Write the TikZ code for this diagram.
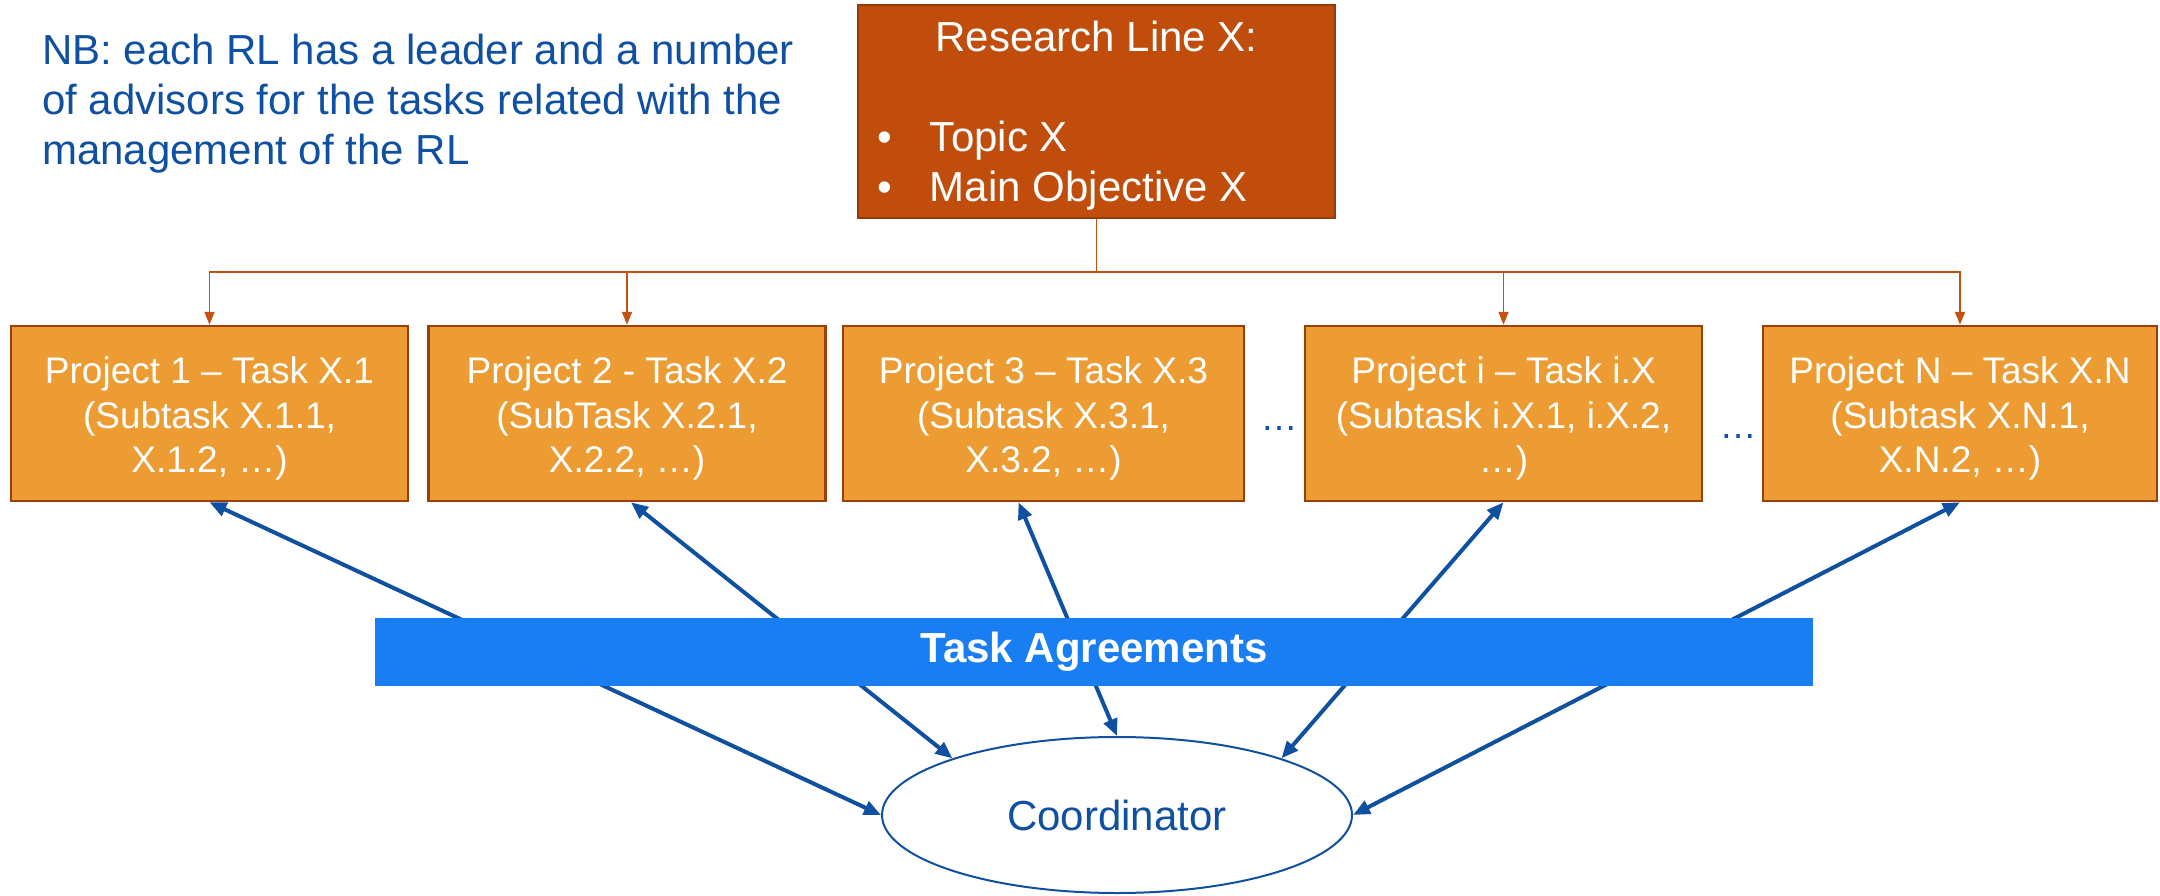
\documentclass[tikz,border=0pt]{standalone}
\usepackage{fontspec}
\setmainfont{Liberation Sans}
\usetikzlibrary{arrows.meta,shapes.geometric,calc}
\definecolor{rlfill}{RGB}{192,77,11}
\definecolor{rldraw}{RGB}{150,58,8}
\definecolor{pfill}{RGB}{236,156,50}
\definecolor{pdraw}{RGB}{154,62,10}
\definecolor{oline}{RGB}{197,80,15}
\definecolor{tablue}{RGB}{24,126,242}
\definecolor{dblue}{RGB}{16,80,160}
% a taller first line pushes the box text slightly down
\newcommand{\firststrut}{\rule{0pt}{37pt}}
\begin{document}
\begin{tikzpicture}[x=1pt,y=-1pt,
  rlbox/.style={draw=rldraw, fill=rlfill, line width=2pt, inner sep=0pt,
    minimum width=477pt, text=white, font=\fontsize{42pt}{50pt}\selectfont},
  projbox/.style={draw=pdraw, fill=pfill, line width=2.5pt, minimum width=397pt,
    minimum height=175pt, inner sep=0pt, text=white, align=center,
    font=\fontsize{37pt}{44.5pt}\selectfont},
  feed/.style={draw=oline, line width=1.8pt, -{Triangle[length=13pt,width=10pt]}},
  link/.style={draw=dblue, line width=4pt,
    {Triangle[length=17pt,width=14pt]}-{Triangle[length=17pt,width=14pt]}},
  gapdots/.style={text=dblue, inner sep=0pt, anchor=base, font=\fontsize{37pt}{44pt}\selectfont},
  coordbox/.style={ellipse, draw=dblue, line width=2pt, fill=white, inner sep=0pt,
    minimum width=470pt, minimum height=156pt, text=dblue,
    font=\fontsize{42pt}{50pt}\selectfont},
  agreebar/.style={fill=tablue, inner sep=0pt, minimum width=1438pt, minimum height=68pt,
    text=white, font=\fontsize{42pt}{50pt}\selectfont\bfseries}
]
\useasboundingbox (0,0) rectangle (2160,896);

% note in the upper left corner
\node[anchor=base west, inner sep=0pt, text=dblue,
      font=\fontsize{42pt}{50pt}\selectfont] (nb) at (42,65)
  {\parbox[t]{820pt}{\raggedright
   NB: each RL has a leader and a number\par
   of advisors for the tasks related with the\par
   management of the RL}};

% research line box
\node[rlbox, text height=47pt, text depth=166pt] (rl) at (1096.5,111.5)
  {\parbox[t]{439pt}{{\centering Research Line X:\par}\vspace{50pt}\raggedright
   \makebox[53pt][l]{\textbullet}Topic X\par
   \makebox[53pt][l]{\textbullet}Main Objective X}};

% project boxes
\node[projbox] (p1) at (209.5,413.5) {\firststrut Project 1 -- Task X.1\\(Subtask X.1.1,\\X.1.2, \dots)};
\node[projbox] (p2) at (627,413.5) {\firststrut Project 2 - Task X.2\\(SubTask X.2.1,\\X.2.2, \dots)};
\node[projbox, minimum width=401pt] (p3) at (1043.5,413.5) {\firststrut Project 3 -- Task X.3\\(Subtask X.3.1,\\X.3.2, \dots)};
\node[projbox] (p4) at (1503.5,413.5) {\firststrut Project i -- Task i.X\\(Subtask i.X.1, i.X.2,\\\dots)};
\node[projbox, minimum width=394pt] (p5) at (1960,413.5) {\firststrut Project N -- Task X.N\\(Subtask X.N.1,\\X.N.2, \dots)};

\node[gapdots] (gap1) at (1279,430) {…};
\node[gapdots] (gap2) at (1738,438) {…};

% tree from the research line to the projects
\coordinate (hub) at (1096.5,272);
\draw[draw=oline, line width=1.8pt] (rl.south) -- (hub);
\draw[feed] (hub) -| (p1.north);
\draw[feed] (hub) -| (p2.north);
\draw[feed] (hub) -| (p4.north);
\draw[feed] (hub) -| (p5.north);

% coordinator
\node[coordbox] (coord) at (1117,815) {Coordinator};

% two-way links between projects and coordinator
\draw[link] (p1.south) -- (coord.west);
\draw[link] ($(p2.south)+(4,0)$) -- (coord.161);
\draw[link] ($(p3.south)+(-25,0)$) -- (coord.north);
\draw[link] (p4.south) -- (coord.19);
\draw[link] (p5.south) -- (coord.east);

% task agreements bar on top of the links
\node[agreebar] (ta) at (1094,652) {Task Agreements};
\end{tikzpicture}
\end{document}
